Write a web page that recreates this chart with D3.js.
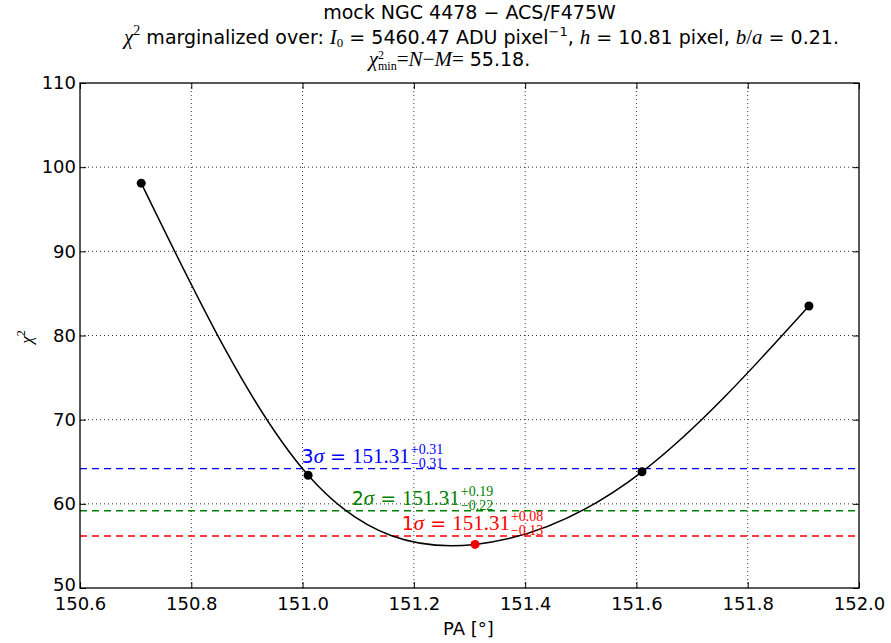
<!DOCTYPE html>
<html>
<head>
<meta charset="utf-8">
<script src="https://cdn.jsdelivr.net/npm/d3@7"></script>
<style>
  body { margin: 0; background: #fff; }
  text { font-family: "DejaVu Sans", sans-serif; }
  .math { font-family: "Liberation Serif", "DejaVu Serif", serif; }
</style>
</head>
<body>
<div id="vis"></div>
<script>
// data
const paValues = [150.71, 151.01, 151.31, 151.61, 151.91];
const chi2Values = [98.1, 63.4, 55.18, 63.8, 83.5];
const bestIndex = 2;
const chi2Min = 55.18;
const sigmaLevels = [
  {n: 1, delta: 1, color: '#ff0000', best: '151.31', plus: '+0.08', minus: '\u22120.13'},
  {n: 2, delta: 4, color: '#008000', best: '151.31', plus: '+0.19', minus: '\u22120.22'},
  {n: 3, delta: 9, color: '#0000ff', best: '151.31', plus: '+0.31', minus: '\u22120.31'},
];
const xTicks = [150.6, 150.8, 151.0, 151.2, 151.4, 151.6, 151.8, 152.0];
const yTicks = [50, 60, 70, 80, 90, 100, 110];

const margin = {top: 83, right: 32, bottom: 55, left: 80};
const width = 891 - margin.left - margin.right;
const height = 643 - margin.top - margin.bottom;

const root = d3.select('#vis')
  .append('svg')
  .attr('width', 891)
  .attr('height', 643);

const svg = root.append('g')
  .attr('transform', 'translate(' + margin.left + ',' + margin.top + ')');

const x = d3.scaleLinear().domain([150.6, 152.0]).range([0, width]);
const y = d3.scaleLinear().domain([50, 110]).range([height, 0]);

// grid
svg.append('g').selectAll('line')
  .data(xTicks.slice(1, -1))
  .enter().append('line')
  .attr('x1', (d) => x(d)).attr('x2', (d) => x(d))
  .attr('y1', 0).attr('y2', height)
  .attr('stroke', '#000').attr('stroke-width', 0.8)
  .attr('stroke-dasharray', '1,3');
svg.append('g').selectAll('line')
  .data(yTicks.slice(1, -1))
  .enter().append('line')
  .attr('x1', 0).attr('x2', width)
  .attr('y1', (d) => y(d)).attr('y2', (d) => y(d))
  .attr('stroke', '#000').attr('stroke-width', 0.8)
  .attr('stroke-dasharray', '1,3');

// axes, ticks pointing inward on all four sides
const fmtX = d3.format('.1f');
svg.append('g')
  .attr('transform', 'translate(0,' + height + ')')
  .call(d3.axisBottom(x).tickValues(xTicks).tickFormat(fmtX).tickSizeInner(-6).tickSizeOuter(0).tickPadding(9))
  .call((g) => g.select('.domain').remove())
  .selectAll('text').style('font-size', '18px').attr('fill', '#000');
svg.append('g')
  .call(d3.axisTop(x).tickValues(xTicks).tickFormat('').tickSizeInner(-6).tickSizeOuter(0))
  .call((g) => g.select('.domain').remove());
svg.append('g')
  .call(d3.axisLeft(y).tickValues(yTicks).tickSizeInner(-6).tickSizeOuter(0).tickPadding(4))
  .call((g) => g.select('.domain').remove())
  .selectAll('text').style('font-size', '18px').attr('fill', '#000')
  .attr('dy', (d) => d === 50 ? '0.15em' : '0.32em');
svg.append('g')
  .attr('transform', 'translate(' + width + ',0)')
  .call(d3.axisRight(y).tickValues(yTicks).tickFormat('').tickSizeInner(-6).tickSizeOuter(0))
  .call((g) => g.select('.domain').remove());

// sigma lines
svg.append('g').selectAll('line')
  .data(sigmaLevels)
  .enter().append('line')
  .attr('x1', 0).attr('x2', width)
  .attr('y1', (d) => y(chi2Min + d.delta)).attr('y2', (d) => y(chi2Min + d.delta))
  .attr('stroke', (d) => d.color).attr('stroke-width', 1.3)
  .attr('stroke-dasharray', '7,5');

// interpolated curve
const pts = paValues.map((p, i) => [p, chi2Values[i]]);
svg.append('path')
  .datum(pts)
  .attr('fill', 'none')
  .attr('stroke', '#000')
  .attr('stroke-width', 1.5)
  .attr('d', d3.line().x((d) => x(d[0])).y((d) => y(d[1])).curve(d3.curveNatural));

svg.append('g').selectAll('circle')
  .data(pts)
  .enter().append('circle')
  .attr('cx', (d) => x(d[0])).attr('cy', (d) => y(d[1]))
  .attr('r', 4.5)
  .attr('fill', (d, i) => i === bestIndex ? '#ee0000' : '#000');

// sigma labels: n sigma = best ^plus _minus
const labelX = {1: 151.18, 2: 151.09, 3: 151.0};
sigmaLevels.forEach((s) => {
  const g = svg.append('g')
    .attr('transform', 'translate(' + (x(labelX[s.n]) - 1) + ',' + (y(chi2Min + s.delta) - 6) + ')')
    .attr('fill', s.color);
  const t = g.append('text').style('font-size', '19px');
  t.append('tspan').text(s.n);
  t.append('tspan').attr('class', 'math').style('font-style', 'italic').style('font-size', '21px').text('\u03c3');
  t.append('tspan').text(' = ');
  t.append('tspan').attr('class', 'math').style('font-size', '21px').text(s.best);
  const w = t.node().getComputedTextLength() + 1;
  g.append('text').attr('class', 'math').attr('x', w).attr('y', -9)
    .style('font-size', '14px').text(s.plus);
  g.append('text').attr('class', 'math').attr('x', w).attr('y', 5)
    .style('font-size', '14px').text(s.minus);
});

// frame
svg.append('rect')
  .attr('width', width).attr('height', height)
  .attr('fill', 'none').attr('stroke', '#000').attr('stroke-width', 1.3);

// axis labels
root.append('text')
  .attr('x', margin.left + width / 2 - 1).attr('y', 635)
  .attr('text-anchor', 'middle').style('font-size', '18px')
  .text('PA [\u00b0]');
const yl = root.append('text')
  .attr('transform', 'translate(32,' + 337 + ') rotate(-90)')
  .attr('text-anchor', 'middle').attr('class', 'math').style('font-size', '17px');
yl.append('tspan').style('font-style', 'italic').text('\u03c7');
yl.append('tspan').attr('dy', -7).style('font-size', '12px').text('2');

// title
const cx = margin.left + width / 2;
root.append('text').attr('x', cx).attr('y', 19)
  .attr('text-anchor', 'middle').style('font-size', '19px')
  .text('mock NGC 4478 \u2212 ACS/F475W');

const t2 = root.append('text').attr('x', cx + 12).attr('y', 44)
  .attr('text-anchor', 'middle').style('font-size', '19px');
t2.append('tspan').attr('class', 'math').style('font-style', 'italic').style('font-size', '21px').text('\u03c7');
t2.append('tspan').attr('class', 'math').attr('dy', -9).style('font-size', '14px').text('2');
t2.append('tspan').attr('dy', 9).text(' marginalized over: ');
t2.append('tspan').attr('class', 'math').style('font-style', 'italic').style('font-size', '21px').text('I');
t2.append('tspan').attr('class', 'math').attr('dy', 3).style('font-size', '13px').text('0');
t2.append('tspan').attr('dy', -3).text(' = 5460.47 ADU pixel');
t2.append('tspan').attr('dy', -8).style('font-size', '13px').text('\u22121');
t2.append('tspan').attr('dy', 8).text(', ');
t2.append('tspan').attr('class', 'math').style('font-style', 'italic').style('font-size', '21px').text('h');
t2.append('tspan').text(' = 10.81 pixel, ');
t2.append('tspan').attr('class', 'math').style('font-style', 'italic').style('font-size', '21px').text('b');
t2.append('tspan').attr('class', 'math').style('font-size', '21px').text('/');
t2.append('tspan').attr('class', 'math').style('font-style', 'italic').style('font-size', '21px').text('a');
t2.append('tspan').text(' = 0.21.');

const t3 = root.append('text').attr('x', cx - 20).attr('y', 66)
  .attr('text-anchor', 'middle').style('font-size', '19px');
t3.append('tspan').attr('class', 'math').style('font-style', 'italic').style('font-size', '21px').text('\u03c7');
t3.append('tspan').attr('class', 'math').attr('dy', -7).style('font-size', '12px').text('2');
t3.append('tspan').attr('class', 'math').attr('dx', -6).attr('dy', 11).style('font-size', '12px').text('min');
t3.append('tspan').attr('class', 'math').attr('dy', -4).style('font-size', '21px').text('=');
t3.append('tspan').attr('class', 'math').style('font-style', 'italic').style('font-size', '21px').text('N');
t3.append('tspan').attr('class', 'math').style('font-size', '21px').text('\u2212');
t3.append('tspan').attr('class', 'math').style('font-style', 'italic').style('font-size', '21px').text('M');
t3.append('tspan').attr('class', 'math').style('font-size', '21px').text('=');
t3.append('tspan').text(' 55.18.');
</script>
</body>
</html>
